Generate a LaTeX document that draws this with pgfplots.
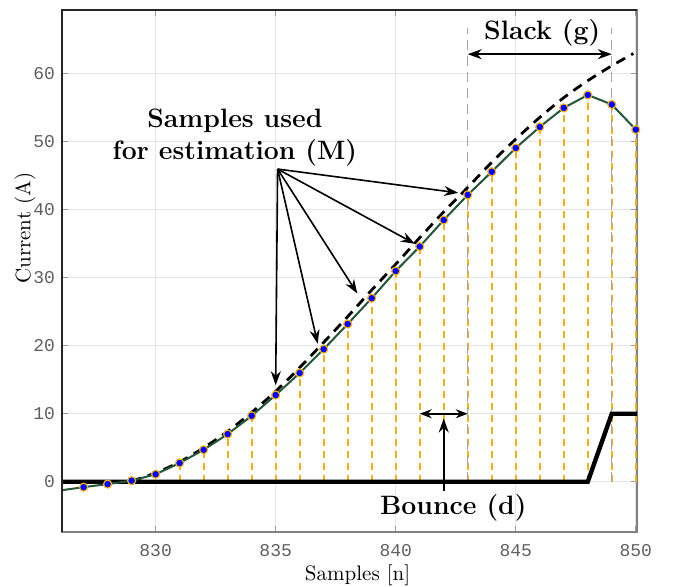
\documentclass[border=0pt]{standalone}
\usepackage{fontspec}
\setmonofont{Liberation Mono}
\usepackage{pgfplots}
\pgfplotsset{compat=1.18}
\usetikzlibrary{arrows.meta}
\definecolor{fitgreen}{RGB}{35,85,55}
\definecolor{ora}{RGB}{240,176,32}
\definecolor{gdash}{RGB}{165,165,165}
\definecolor{tickgray}{RGB}{95,95,95}
\begin{document}
\begin{tikzpicture}
\begin{axis}[
 scale only axis, width=287.5pt, height=261pt,
 xmin=826.1, xmax=850.05, ymin=-7.4, ymax=69.4,
 xtick={830,835,840,845,850}, ytick={0,10,20,30,40,50,60},
 grid=major, grid style={draw=black!10, line width=0.4pt},
 tick align=inside, major tick length=3pt,
 tick style={draw=black!40, line width=0.6pt},
 axis line style={draw=black!50, line width=0.6pt},
 ticklabel style={font=\fontsize{9}{10}\ttfamily, text=tickgray},
 xticklabel style={yshift=-2.5pt},
 /pgf/number format/assume math mode=true,
 /pgf/number format/1000 sep={},
 xlabel={Samples [n]}, ylabel={Current (A)},
 xlabel style={at={(axis description cs:0.514,-0.082)}, anchor=center, font=\fontsize{10.5}{12}\selectfont},
 ylabel style={at={(axis description cs:-0.0643,0.582)}, anchor=center, font=\fontsize{10.5}{12}\selectfont},
]
% orange stems
\addplot[ycomb, draw=ora, line width=0.9pt, dash pattern=on 3.5pt off 2.5pt, mark=none] coordinates {
(831,2.75)(832,4.7)(833,7.0)(834,9.7)(835,12.75)(836,16.0)(837,19.5)(838,23.2)(839,27.0)(840,31.0)
(841,34.6)(842,38.5)(843,42.2)(844,45.6)(845,49.1)(846,52.2)(847,55.0)(848,56.9)(849,55.5)(850,51.8)};
% gray dashed markers
\addplot[gdash, dash pattern=on 5pt off 3pt, line width=0.7pt] coordinates {(843,0)(843,66.8)};
\addplot[gdash, dash pattern=on 5pt off 3pt, line width=0.7pt] coordinates {(849,0)(849,66.8)};
% black step
\addplot[black, line width=2.2pt] coordinates {(826,0)(848,0)(849,10)(851,10)};
% fitted dashed
\addplot[black, line width=1.4pt, dash pattern=on 5pt off 3.5pt, smooth] coordinates {
(829,0.1)(830,1.3)(831,2.9)(832,5.0)(833,7.4)(834,10.2)(835,13.3)(836,16.8)(837,20.5)(838,24.3)
(839,28.2)(840,32.0)(841,35.9)(842,39.7)(843,43.3)(844,47.0)(845,50.4)(846,53.6)(847,56.5)(848,59.0)(849,61.2)(849.9,63.0)};
% green measured line
\addplot[fitgreen, line width=1pt] coordinates {
(826,-1.3)(827,-0.8)(828,-0.35)(829,0.15)(830,1.1)(831,2.75)(832,4.7)(833,7.0)(834,9.7)(835,12.75)(836,16.0)(837,19.5)(838,23.2)(839,27.0)(840,31.0)
(841,34.6)(842,38.5)(843,42.2)(844,45.6)(845,49.1)(846,52.2)(847,55.0)(848,56.9)(849,55.5)(850,51.8)(851,46)};
% markers
\addplot[only marks, mark=*, mark size=2pt, mark options={fill=blue, draw=ora, line width=0.6pt}] coordinates {
(827,-0.8)(828,-0.35)(829,0.15)(830,1.1)(831,2.75)(832,4.7)(833,7.0)(834,9.7)(835,12.75)(836,16.0)(837,19.5)(838,23.2)(839,27.0)(840,31.0)
(841,34.6)(842,38.5)(843,42.2)(844,45.6)(845,49.1)(846,52.2)(847,55.0)(848,56.9)(849,55.5)(850,51.8)};
% annotations
\tikzset{myarr/.style={-{Stealth[length=7pt,width=5pt]}, line width=0.8pt}}
\draw[myarr] (axis cs:835.08,46) -- (axis cs:835.0,14.2);
\draw[myarr] (axis cs:835.08,46) -- (axis cs:836.75,20.3);
\draw[myarr] (axis cs:835.08,46) -- (axis cs:838.4,27.7);
\draw[myarr] (axis cs:835.08,46) -- (axis cs:840.8,35.0);
\draw[myarr] (axis cs:835.08,46) -- (axis cs:842.6,42.5);
\node[align=center, font=\fontsize{13.3}{16}\selectfont\bfseries] at (axis cs:833.3,50.7) {Samples used\\for estimation (M)};
\draw[{Stealth[length=7pt,width=5pt]}-{Stealth[length=7pt,width=5pt]}, line width=0.8pt] (axis cs:843,62.9) -- (axis cs:849,62.9);
\node[font=\fontsize{13.3}{16}\selectfont\bfseries] at (axis cs:846.1,66.0) {Slack (g)};
\draw[{Stealth[length=6pt,width=4.5pt]}-{Stealth[length=6pt,width=4.5pt]}, line width=0.8pt] (axis cs:841,10) -- (axis cs:843,10);
\draw[myarr] (axis cs:842,-1.3) -- (axis cs:842,9.3);
\node[font=\fontsize{13.3}{16}\selectfont\bfseries] at (axis cs:842.4,-3.8) {Bounce (d)};
\end{axis}
\draw[black!85, line width=0.7pt] (current axis.south west) -- (current axis.north west) -- (current axis.north east);
\pgfresetboundingbox
\path (current axis.south west) ++(-31pt,-27pt) rectangle ++(336.5pt,293pt);
\end{tikzpicture}
\end{document}
